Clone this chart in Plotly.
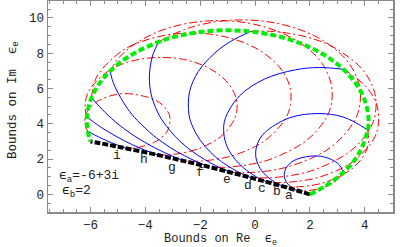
import plotly.graph_objects as go

# ---- data (Re, Im) ----
green_re = [2.00, 2.60, 3.22, 3.77, 4.11, 4.13, 4.00, 3.70, 3.22, 2.56, 1.74, 0.81, -0.16, -1.11, -2.01, -2.82, -3.52, -4.59, -5.29, -5.72, -5.96, -6.08, -6.13, -6.13, -6.10, -6.05, -6.00]
green_im = [0.00, 0.51, 1.24, 2.27, 3.65, 4.46, 5.33, 6.23, 7.09, 7.87, 8.51, 8.97, 9.23, 9.30, 9.20, 8.97, 8.64, 7.83, 6.98, 6.19, 5.49, 4.89, 4.38, 3.95, 3.58, 3.27, 3.00]

black_re = [2.00, 1.53, 1.02, 0.45, -0.18, -0.88, -1.66, -2.54, -3.54, -4.68, -5.32, -6.00]
black_im = [0.00, 0.22, 0.45, 0.69, 0.96, 1.24, 1.55, 1.87, 2.23, 2.60, 2.80, 3.00]

blue_a = ([3.22, 3.07, 2.78, 2.25, 1.52, 1.20, 1.07, 1.10, 1.21, 1.39, 1.53],
          [1.24, 1.67, 1.98, 2.18, 1.99, 1.64, 1.22, 0.82, 0.56, 0.33, 0.22])
blue_b = ([4.11, 3.24, 2.33, 1.26, 0.34, 0.07, 0.03, 0.18, 0.41, 0.74, 1.02],
          [3.65, 4.37, 4.58, 4.34, 3.48, 2.79, 2.11, 1.48, 1.05, 0.67, 0.45])
blue_c = ([3.22, 2.35, 1.47, 0.34, -0.57, -1.09, -1.14, -1.02, -0.73, -0.41, 0.05, 0.45],
          [7.09, 7.19, 7.06, 6.53, 5.58, 4.28, 3.47, 2.71, 1.99, 1.49, 0.99, 0.69])
blue_d = ([-0.16, -0.90, -1.49, -2.07, -2.39, -2.41, -2.26, -2.00, -1.62, -1.23, -0.67, -0.18],
          [9.23, 8.66, 7.98, 6.96, 5.81, 4.52, 3.78, 3.07, 2.38, 1.86, 1.32, 0.96])
blue_e = ([-3.52, -3.72, -3.82, -3.85, -3.75, -3.48, -3.22, -2.90, -2.48, -2.05, -1.64, -1.25, -0.88],
          [8.64, 7.94, 7.26, 6.37, 5.44, 4.44, 3.85, 3.26, 2.66, 2.18, 1.80, 1.49, 1.24])
blue_f = ([-5.29, -5.21, -5.10, -4.66, -4.30, -3.70, -3.28, -2.87, -2.25, -1.66],
          [6.98, 6.52, 6.07, 4.88, 4.20, 3.33, 2.85, 2.44, 1.94, 1.55])
blue_g = ([-5.96, -5.69, -5.24, -4.92, -4.40, -4.04, -3.67, -3.11, -2.54],
          [5.49, 5.00, 4.31, 3.89, 3.31, 2.97, 2.65, 2.23, 1.87])
blue_h = ([-6.13, -5.93, -5.61, -5.01, -4.47, -4.02, -3.54],
          [4.38, 4.15, 3.80, 3.24, 2.81, 2.51, 2.23])
blue_i = ([-6.10, -5.85, -5.54, -5.24, -4.98, -4.68],
          [3.58, 3.37, 3.13, 2.93, 2.77, 2.60])

red_a = ([3.22, 2.96, 2.70, 2.32, 2.07, 1.80, 1.65, 1.53],
         [1.24, 0.78, 0.53, 0.31, 0.24, 0.20, 0.20, 0.22])
red_b = ([4.11, 4.13, 3.99, 3.53, 2.69, 2.15, 1.56, 1.26, 1.02],
         [3.65, 2.88, 2.27, 1.45, 0.76, 0.53, 0.43, 0.43, 0.45])
red_c = ([3.22, 3.95, 4.29, 4.47, 4.49, 4.31, 3.70, 3.10, 2.21, 1.26, 0.80, 0.45],
         [7.09, 6.26, 5.58, 4.90, 3.89, 3.09, 2.02, 1.43, 0.92, 0.69, 0.67, 0.69])
red_d = ([-0.16, 0.50, 1.15, 2.11, 2.94, 3.92, 4.36, 4.39, 4.18, 3.49, 2.23, 1.42, 0.54, -0.18],
         [9.23, 9.25, 9.15, 8.82, 8.27, 7.07, 5.77, 4.62, 3.70, 2.47, 1.43, 1.10, 0.94, 0.96])
red_e = ([-3.52, -2.42, -0.91, 0.79, 2.31, 3.33, 3.79, 3.82, 3.60, 2.89, 2.17, 1.10, 0.43, -0.34, -0.88],
         [8.64, 9.43, 9.87, 9.70, 8.87, 7.61, 6.26, 5.07, 4.10, 2.83, 2.13, 1.52, 1.32, 1.23, 1.24])
red_f = ([-5.29, -4.93, -4.26, -3.20, -1.75, -0.12, 1.34, 2.32, 2.76, 2.79, 2.58, 1.89, 0.63, -0.18, -1.06, -1.66],
         [6.98, 7.80, 8.65, 9.41, 9.83, 9.67, 8.87, 7.67, 6.37, 5.22, 4.30, 3.07, 2.03, 1.70, 1.54, 1.55])
red_g = ([-5.96, -5.78, -4.88, -3.95, -2.68, -1.26, 0.02, 0.88, 1.27, 1.29, 1.11, 0.50, -0.10, -0.99, -1.94, -2.54],
         [5.49, 6.64, 8.10, 8.76, 9.13, 8.99, 8.29, 7.23, 6.10, 5.09, 4.29, 3.22, 2.63, 2.12, 1.89, 1.87])
red_h = ([-6.13, -6.20, -6.06, -5.37, -4.67, -3.70, -2.61, -1.64, -0.99, -0.69, -0.67, -0.82, -1.27, -2.11, -3.00, -3.54],
         [4.38, 4.98, 5.86, 6.97, 7.48, 7.75, 7.65, 7.12, 6.31, 5.45, 4.68, 4.07, 3.25, 2.56, 2.26, 2.23])
red_i = ([-6.10, -6.17, -6.21, -6.14, -5.75, -4.81, -3.65, -3.28, -3.11, -3.18, -3.44, -3.70, -4.33, -4.68],
         [3.58, 3.81, 4.15, 4.64, 5.27, 5.71, 5.35, 4.90, 4.42, 3.64, 3.18, 2.93, 2.64, 2.60])

label_text = ["a", "b", "c", "d", "e", "f", "g", "h", "i"]
label_re = [1.22, 0.79, 0.24, -0.24, -1.03, -2.01, -3.04, -4.05, -5.05]
label_im = [-0.08, 0.16, 0.35, 0.48, 0.87, 1.25, 1.53, 2.00, 2.19]

x_ticks = [-6, -4, -2, 0, 2, 4]
y_ticks = [0, 2, 4, 6, 8, 10]

FONT = "Liberation Mono, Courier New, monospace"

fig = go.Figure()

for arc in [red_a, red_b, red_c, red_d, red_e, red_f, red_g, red_h, red_i]:
    fig.add_trace(go.Scatter(x=arc[0], y=arc[1], mode="lines",
                             line=dict(color="#ff0000", width=1, dash="8px,3px,2px,3px",
                                       shape="spline", smoothing=1.0),
                             hoverinfo="skip", showlegend=False))

for arc in [blue_a, blue_b, blue_c, blue_d, blue_e, blue_f, blue_g, blue_h, blue_i]:
    fig.add_trace(go.Scatter(x=arc[0], y=arc[1], mode="lines",
                             line=dict(color="#0000ff", width=1, shape="spline", smoothing=1.0),
                             hoverinfo="skip", showlegend=False))

fig.add_trace(go.Scatter(x=black_re, y=black_im, mode="lines",
                         line=dict(color="#000000", width=4, dash="6px,2px",
                                   shape="spline", smoothing=1.0),
                         hoverinfo="skip", showlegend=False))
fig.add_trace(go.Scatter(x=green_re, y=green_im, mode="lines",
                         line=dict(color="#00ee00", width=4, dash="6px,3px",
                                   shape="spline", smoothing=1.0),
                         hoverinfo="skip", showlegend=False))

for t, xr, yi in zip(label_text, label_re, label_im):
    fig.add_annotation(x=xr, y=yi, text=t, showarrow=False,
                       font=dict(family=FONT, size=13, color="#222"),
                       xanchor="center", yanchor="middle")

fig.add_annotation(x=-7.23, y=1.04, text="ϵ<sub>a</sub>=-6+3i", showarrow=False,
                   font=dict(family=FONT, size=13, color="#222"),
                   xanchor="left", yanchor="middle")
fig.add_annotation(x=-7.12, y=0.18, text="ϵ<sub>b</sub>=2", showarrow=False,
                   font=dict(family=FONT, size=13, color="#222"),
                   xanchor="left", yanchor="middle")

fig.add_annotation(xref="paper", yref="paper", x=0.5, y=-0.132,
                   text="Bounds on Re  ϵ<sub>e</sub>", showarrow=False,
                   font=dict(family=FONT, size=12, color="#222"),
                   xanchor="center", yanchor="middle")
fig.add_annotation(xref="paper", yref="paper", x=-0.099, y=0.53,
                   text="Bounds on Im  ϵ<sub>e</sub>", showarrow=False, textangle=-90,
                   font=dict(family=FONT, size=12.5, color="#222"),
                   xanchor="center", yanchor="middle")

axis_common = dict(showgrid=False, zeroline=False, showline=True, linecolor="#8a8a8a",
                   linewidth=1.5, mirror="ticks", ticks="inside", ticklen=5,
                   tickcolor="#8a8a8a", tickwidth=1, automargin=False,
                   tickfont=dict(family=FONT, size=12.5, color="#222"))

fig.update_xaxes(range=[-7.55, 5.03], tickvals=x_ticks,
                 minor=dict(ticks="inside", ticklen=3, dtick=0.5, tick0=0,
                            tickcolor="#8a8a8a"),
                 **axis_common)
fig.update_yaxes(range=[-1.0, 10.96], tickvals=y_ticks,
                 minor=dict(ticks="inside", ticklen=3, dtick=0.5, tick0=0,
                            tickcolor="#8a8a8a"),
                 **axis_common)

fig.update_layout(width=400, height=247, autosize=False,
                  margin=dict(l=48, r=7, t=1, b=35, autoexpand=False),
                  plot_bgcolor="white", paper_bgcolor="white", showlegend=False)

fig.write_html("out.html",
               config={"displayModeBar": False, "staticPlot": True},
               post_script="document.body.style.margin='0px';"
                           "document.body.style.overflow='hidden';")
